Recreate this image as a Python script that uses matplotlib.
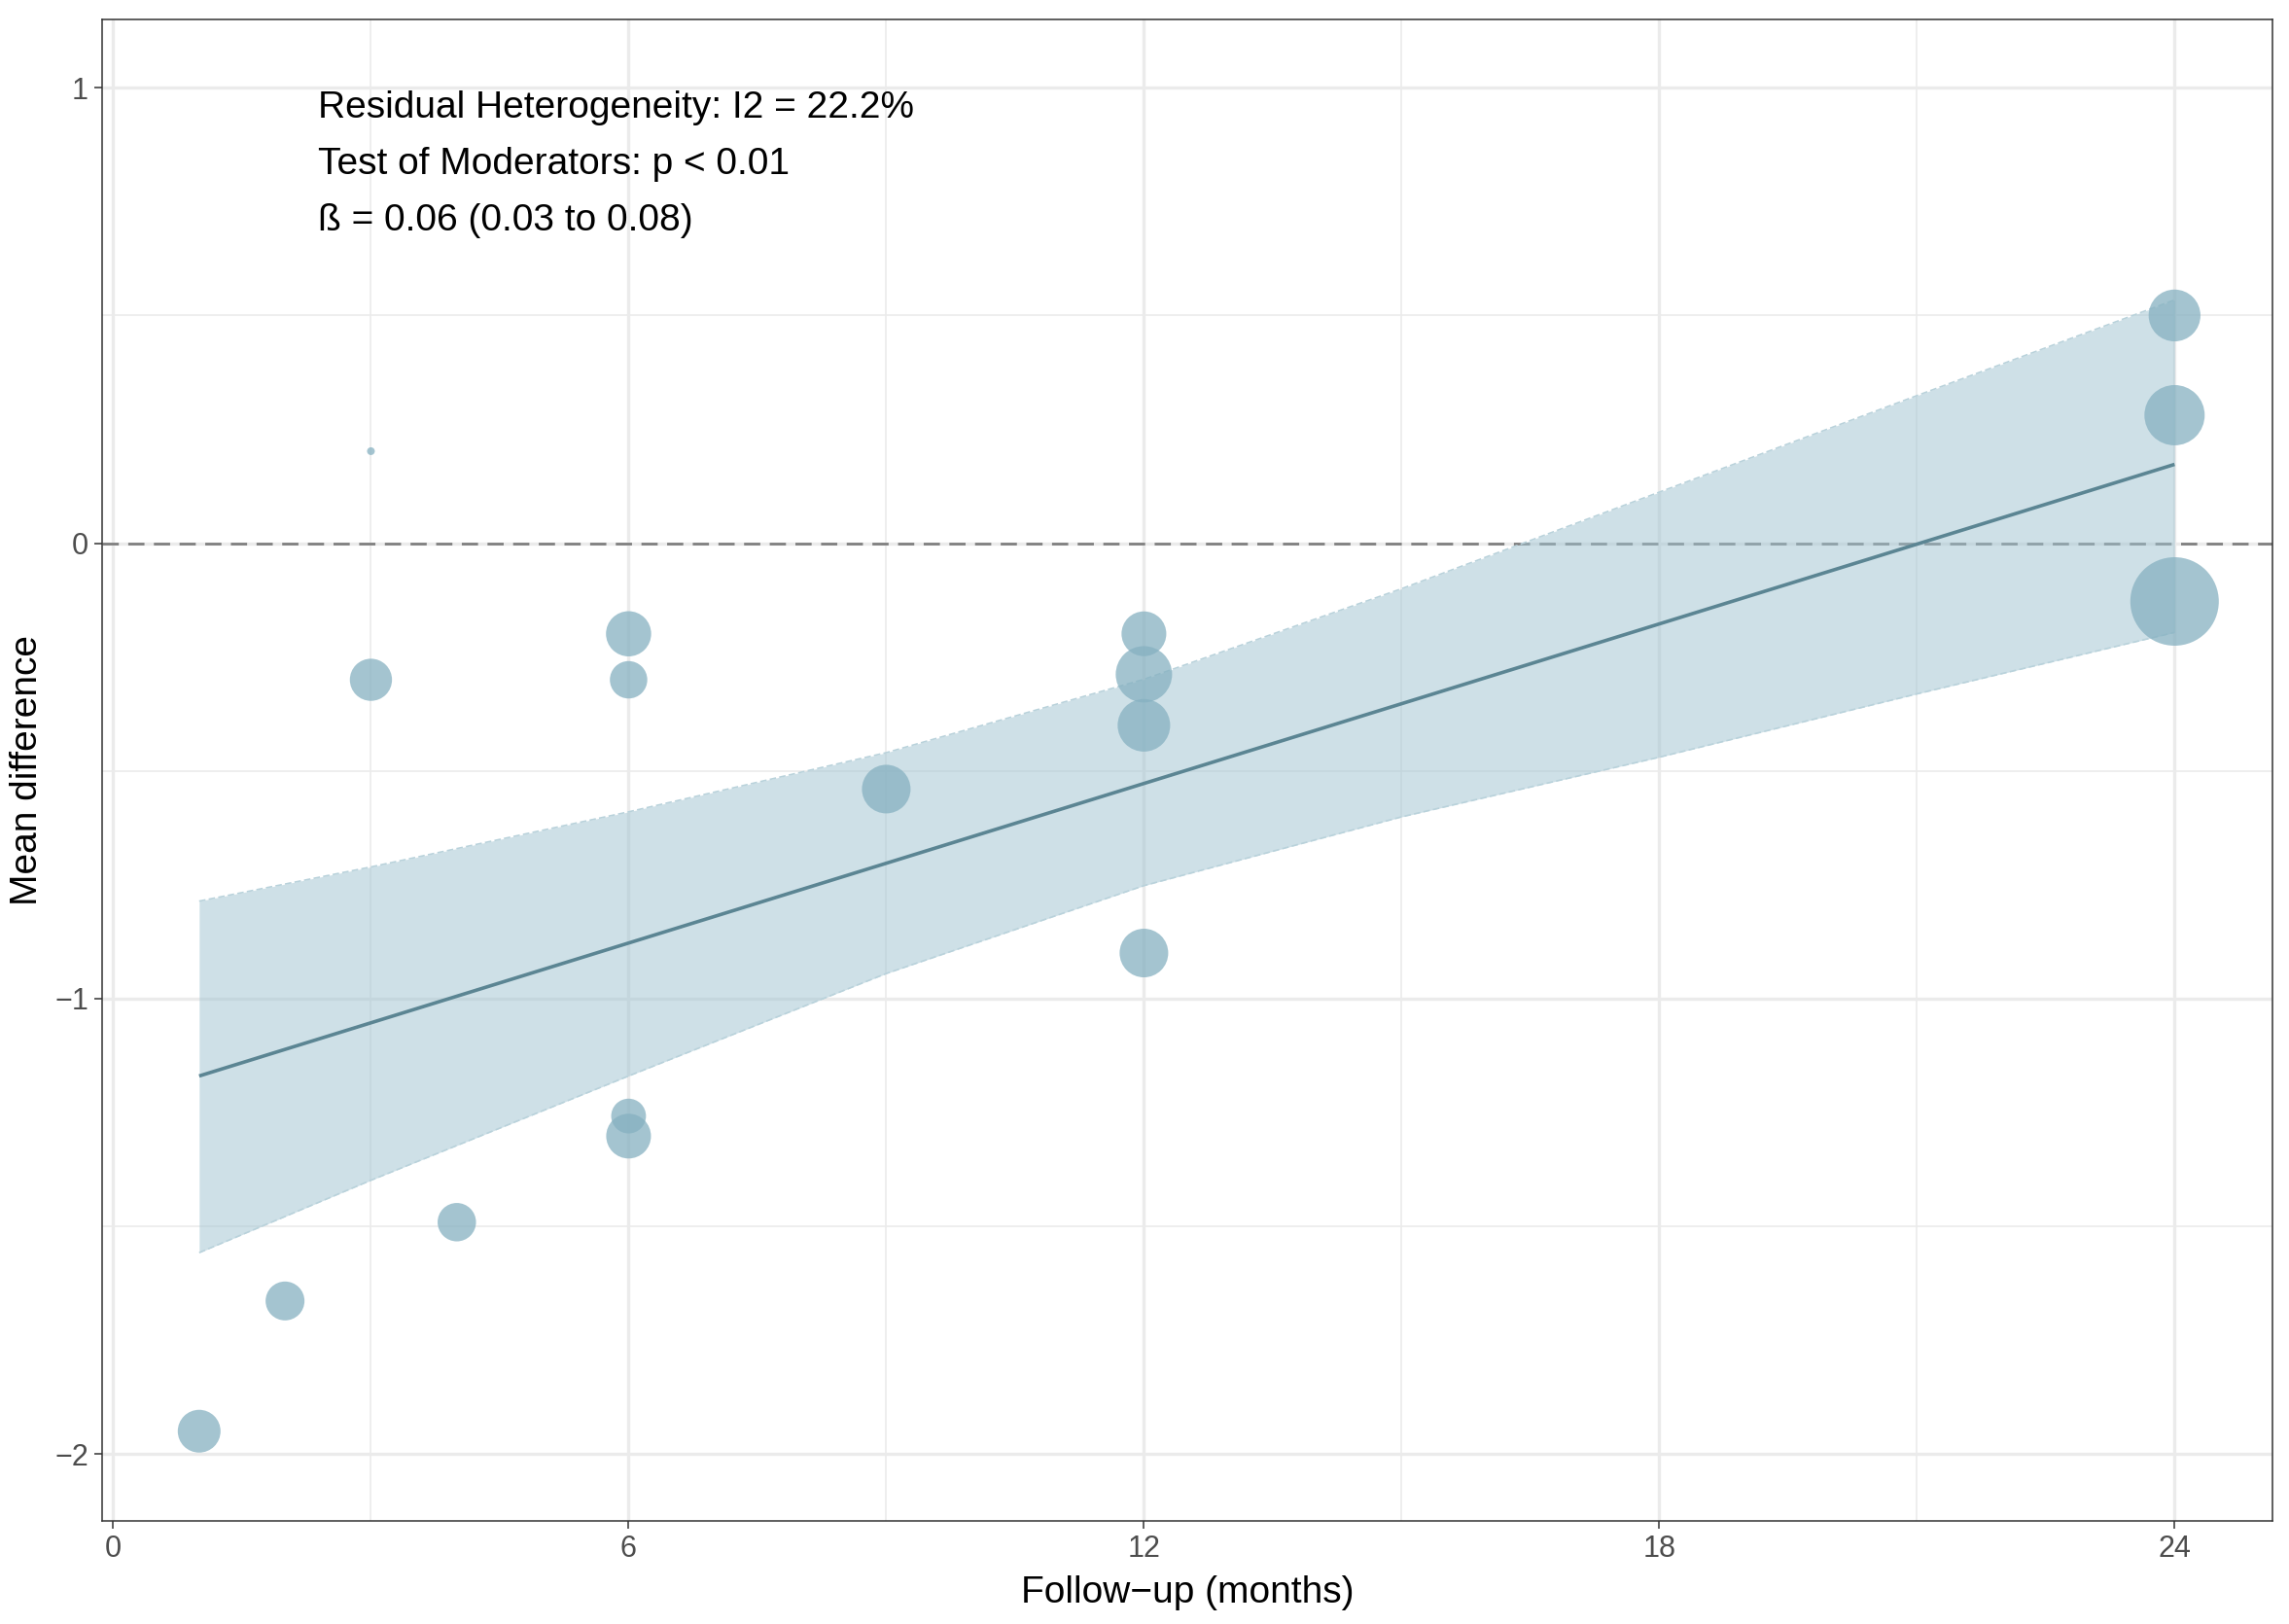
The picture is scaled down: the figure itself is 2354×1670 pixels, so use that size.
import numpy as np
import matplotlib
matplotlib.use("Agg")
import matplotlib.pyplot as plt

plt.rcParams['font.family'] = ['Liberation Sans', 'DejaVu Sans']

# ---- data ----
followup = [1, 2, 3, 3, 4, 6, 6, 6, 6, 9, 12, 12, 12, 12, 24, 24, 24]
mean_diff = [-1.95, -1.664, -0.300, 0.202, -1.491, -0.199, -0.300, -1.258, -1.302,
             -0.540, -0.199, -0.288, -0.400, -0.900, 0.500, 0.281, -0.128]
weight = [4.84, 4.0, 4.7, 0.16, 3.9, 5.4, 3.7, 3.2, 5.3,
          6.25, 5.3, 8.4, 7.3, 6.25, 7.1, 9.6, 20.7]

fit_x = [1, 24]
fit_y = [-1.170, 0.173]

ci_x = [1, 3, 6, 9, 12, 15, 18, 21, 24]
ci_upper = [-0.786, -0.711, -0.590, -0.460, -0.299, -0.100, 0.112, 0.324, 0.534]
ci_lower = [-1.558, -1.399, -1.170, -0.945, -0.752, -0.601, -0.470, -0.331, -0.196]

x_ticks = [0, 6, 12, 18, 24]
y_ticks = [-2, -1, 0, 1]
y_ticklabels = ['\u22122', '\u22121', '0', '1']

annot_lines = ["Residual Heterogeneity: I2 = 22.2%",
               "Test of Moderators: p < 0.01",
               "\u00df = 0.06 (0.03 to 0.08)"]

# ---- figure ----
W, H, DPI = 2354, 1670, 100
fig = plt.figure(figsize=(W / DPI, H / DPI), dpi=DPI)
ax = fig.add_axes([105 / W, 1 - 1564 / H, (2337 - 105) / W, (1564 - 20) / H])

ax.set_xlim(-0.13, 25.14)
ax.set_ylim(-2.147, 1.150)

grid_col = '#ebebeb'
for v in x_ticks:
    ax.axvline(v, color=grid_col, lw=2.4, zorder=0)
for v in [3, 9, 15, 21]:
    ax.axvline(v, color=grid_col, lw=1.2, zorder=0)
for v in y_ticks:
    ax.axhline(v, color=grid_col, lw=2.4, zorder=0)
for v in [-1.5, -0.5, 0.5]:
    ax.axhline(v, color=grid_col, lw=1.2, zorder=0)

ax.axhline(0, color='#7f7f7f', lw=2.0, linestyle=(0, (6, 3.5)), zorder=1)

ax.fill_between(ci_x, ci_lower, ci_upper, color='#9fc3d1', alpha=0.5, lw=0, zorder=2)
ax.plot(ci_x, ci_upper, color='#b9d2db', lw=1.2, linestyle=(0, (4, 2)), zorder=2)
ax.plot(ci_x, ci_lower, color='#b9d2db', lw=1.2, linestyle=(0, (4, 2)), zorder=2)

ax.plot(fit_x, fit_y, color='#5b8593', lw=2.6, solid_capstyle='butt', zorder=3)

sizes = [207.4 * w for w in weight]
ax.scatter(followup, mean_diff, s=sizes, color='#86b1c1', alpha=0.75,
           edgecolors='none', zorder=4)

for i, t in enumerate(annot_lines):
    ax.text(2.38, 0.955 - 0.124 * i, t, fontsize=28, color='black',
            ha='left', va='center', zorder=5)

ax.set_xticks(x_ticks)
ax.set_xticklabels([str(v) for v in x_ticks])
ax.set_yticks(y_ticks)
ax.set_yticklabels(y_ticklabels)
ax.tick_params(axis='both', which='major', length=6, width=1.1, color='#333333',
               labelsize=22, labelcolor='#4d4d4d', pad=4)

for sp in ax.spines.values():
    sp.set_color('#333333')
    sp.set_linewidth(1.1)

ax.set_xlabel('Follow\u2212up (months)', fontsize=28, color='black')
ax.set_ylabel('Mean difference', fontsize=28, color='black')
ax.xaxis.set_label_coords(0.5, -0.036)
ax.yaxis.set_label_coords(-0.0265, 0.5)

fig.savefig('out.png', dpi=DPI, facecolor='white')
